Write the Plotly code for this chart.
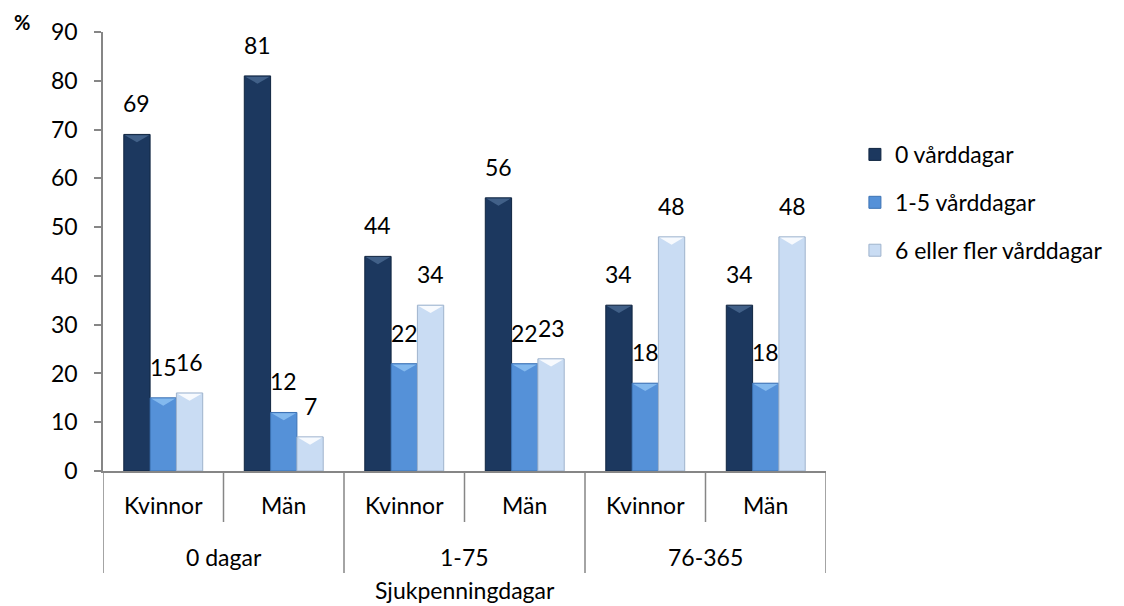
import plotly.graph_objects as go

# Sick-pay day groups and sex within each group
groups = ["0 dagar", "1-75", "76-365"]
sexes = ["Kvinnor", "Män"]
categories = [(g, s) for g in groups for s in sexes]

series_names = ["0 vårddagar", "1-5 vårddagar", "6 eller fler vårddagar"]
vard_0 = [69, 81, 44, 56, 34, 34]
vard_1_5 = [15, 12, 22, 22, 18, 18]
vard_6_plus = [16, 7, 34, 23, 48, 48]
series_values = [vard_0, vard_1_5, vard_6_plus]

y_ticks = [0, 10, 20, 30, 40, 50, 60, 70, 80, 90]

colors = ["#1c385f", "#5591d8", "#c9dcf3"]
edge_colors = ["#102540", "#3c72b4", "#9fb3cc"]
bevel_colors = ["#48678f", "#8cc0f2", "#ffffff"]

FONT = "Lato, Carlito, 'Open Sans', sans-serif"
TXT = "#000000"
AXIS = "#868686"
FS = 23

x_pos = list(range(len(categories)))
bargap = 0.345
bar_w = (1 - bargap) / 3

fig = go.Figure()
for k, (name, vals) in enumerate(zip(series_names, series_values)):
    fig.add_trace(go.Bar(
        x=x_pos, y=vals, name=name, legendgroup=name,
        marker=dict(color=colors[k], line=dict(color=edge_colors[k], width=1)),
        hoverinfo="x+y+name",
    ))

annotations = []
shapes = []
# value labels above each bar, plus a bevelled highlight at each bar top
bevel_depth = 1.6
for k, vals in enumerate(series_values):
    for i, v in enumerate(vals):
        xc = i + (k - 1) * bar_w
        annotations.append(dict(
            x=xc, y=v, xref="x", yref="y",
            text=str(v), showarrow=False, yanchor="bottom", yshift=15,
            font=dict(family=FONT, size=FS, color=TXT),
        ))
        half = bar_w / 2 * 0.92
        shapes.append(dict(
            type="path", xref="x", yref="y",
            path=f"M {xc - half} {v - 0.15} L {xc + half} {v - 0.15} L {xc} {v - bevel_depth} Z",
            fillcolor=bevel_colors[k], line=dict(width=0), opacity=0.85, layer="above",
        ))

# two-level category labels under the axis
for i, (g, s) in enumerate(categories):
    annotations.append(dict(
        x=i, y=0, xref="x", yref="paper", text=s, showarrow=False,
        yanchor="middle", yshift=-34,
        font=dict(family=FONT, size=FS, color=TXT),
    ))
for j, g in enumerate(groups):
    annotations.append(dict(
        x=2 * j + 0.5, y=0, xref="x", yref="paper", text=g, showarrow=False,
        yanchor="middle", yshift=-86,
        font=dict(family=FONT, size=FS, color=TXT),
    ))
annotations.append(dict(
    x=0.5, y=0, xref="paper", yref="paper", text="Sjukpenningdagar",
    showarrow=False, yanchor="middle", yshift=-119,
    font=dict(family=FONT, size=FS, color=TXT),
))
annotations.append(dict(
    x=0, y=1, xref="paper", yref="paper", text="<b>%</b>",
    showarrow=False, xanchor="center", yanchor="middle", xshift=-81, yshift=10,
    font=dict(family=FONT, size=20, color=TXT),
))

# divider lines between categories (long ones between the outer groups)
plot_h = 439
for k in range(len(categories) + 1):
    depth = 102 if k % 2 == 0 else 51
    shapes.append(dict(
        type="line", xref="x", yref="paper",
        x0=k - 0.5, x1=k - 0.5, y0=0, y1=-depth / plot_h,
        line=dict(color=AXIS, width=1.5),
    ))

fig.update_layout(
    width=1124, height=606,
    margin=dict(l=103, r=298, t=32, b=135),
    paper_bgcolor="white", plot_bgcolor="white",
    barmode="group", bargap=bargap, bargroupgap=0,
    font=dict(family=FONT, size=FS, color=TXT),
    showlegend=True,
    legend=dict(
        x=1.04, y=0.77, xanchor="left", yanchor="top",
        font=dict(family=FONT, size=FS, color=TXT),
        tracegroupgap=15, bgcolor="rgba(0,0,0,0)",
    ),
    annotations=annotations,
    shapes=shapes,
)
fig.update_xaxes(
    range=[-0.5, len(categories) - 0.5], showticklabels=False,
    showline=True, linecolor=AXIS, linewidth=1.5, ticks="",
    showgrid=False, zeroline=False, fixedrange=True,
)
fig.update_yaxes(
    range=[0, 90], tickvals=y_ticks, ticks="outside", ticklen=7,
    tickcolor=AXIS, tickwidth=1.5, showline=True, linecolor=AXIS,
    linewidth=1.5, showgrid=False, zeroline=False, ticklabelstandoff=12,
    tickfont=dict(family=FONT, size=FS, color=TXT),
)

fig.write_html("out.html")
